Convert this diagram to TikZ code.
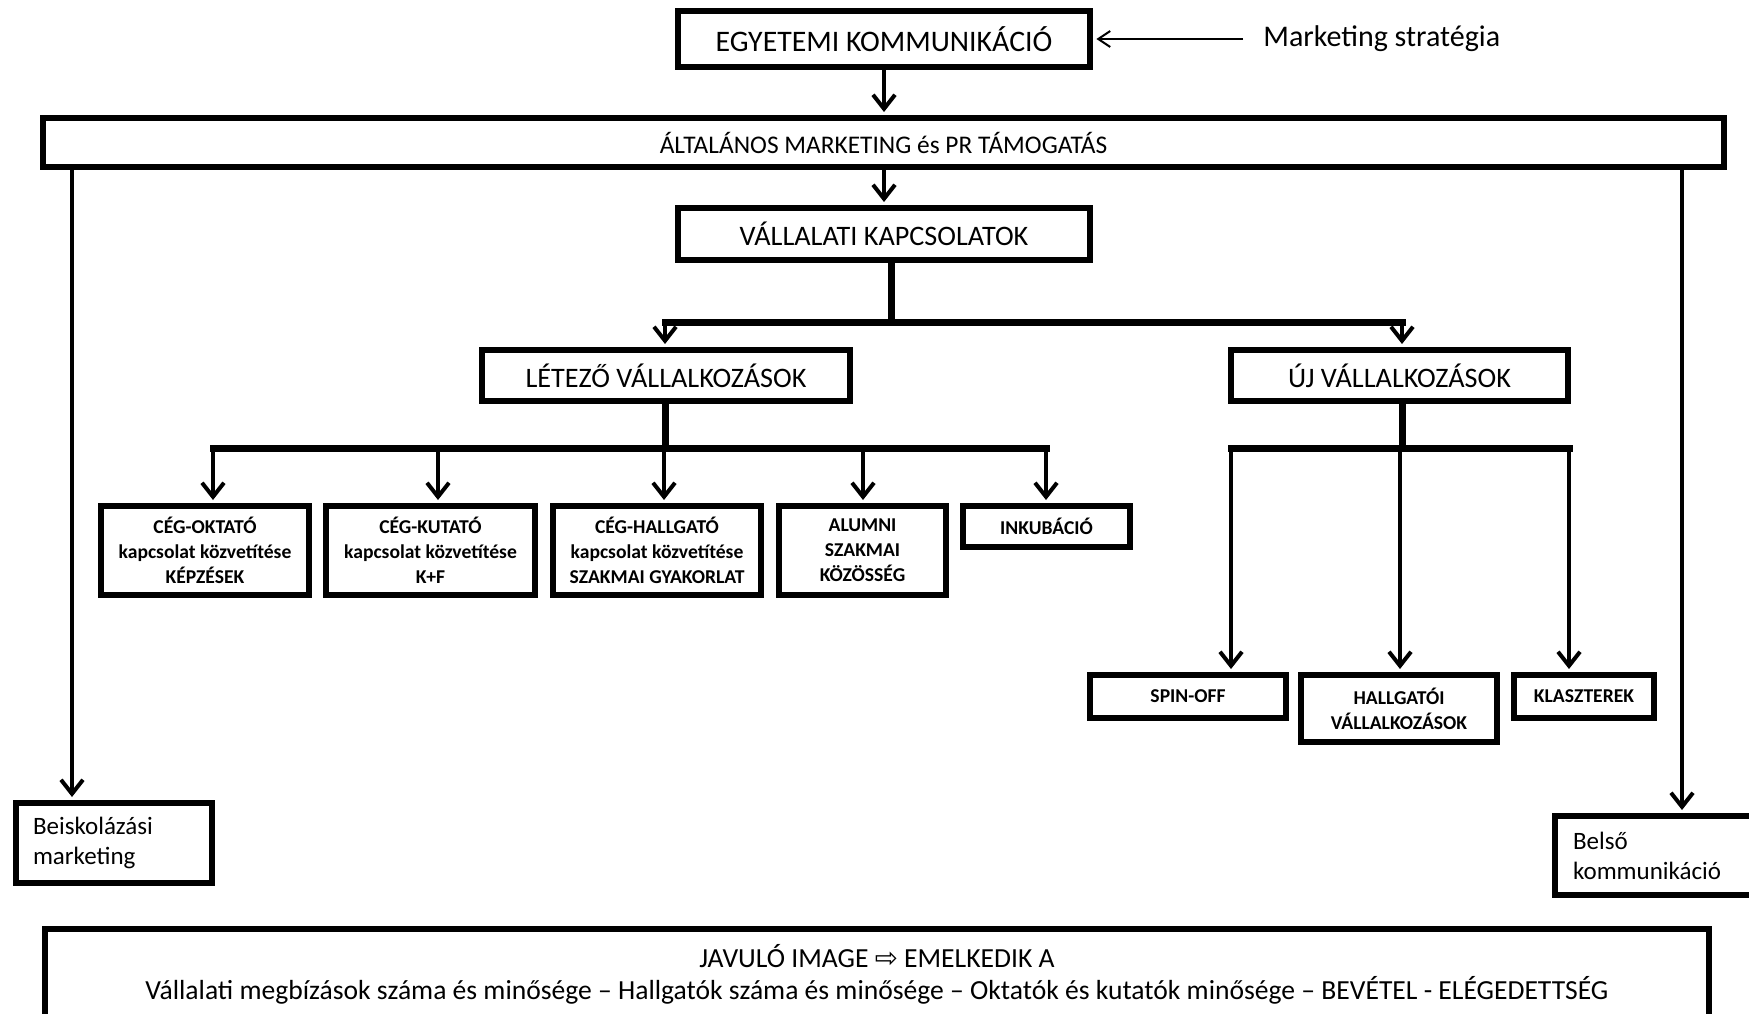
\documentclass[tikz,border=0pt]{standalone}
\usepackage{fontspec}
\setmainfont{Carlito}
\newfontfamily\dejavu{DejaVu Sans}
\usetikzlibrary{arrows.meta,calc}
\begin{document}
\begin{tikzpicture}[x=0.5pt,y=-0.5pt,
  box/.style={draw, line width=3.2pt, inner sep=0pt, align=center},
  titlebox/.style={box, font=\fontsize{14.1}{16}\selectfont},
  sbox/.style={box, font=\bfseries\fontsize{9.8}{12.5}\selectfont},
  sidebox/.style={box, align=left, font=\fontsize{12.5}{15}\selectfont},
  arr/.style={line width=2pt, -{Straight Barb[length=7pt,width=11pt]}, shorten >=1.4pt},
  marr/.style={line width=1pt, -{Straight Barb[length=6pt,width=8pt]}, shorten >=1.6pt},
  bus/.style={line width=3.5pt, line cap=rect},
  stem/.style={line width=3.5pt},
]
\useasboundingbox (0,0) rectangle (1749,1013);
\clip (0,0) rectangle (1749,1013);
\fill[white] (0,0) rectangle (1749,1013);

% main boxes
\node[box, font=\fontsize{14.9}{17}\selectfont, minimum width=206pt, minimum height=28pt] (egy) at (884,39) {EGYETEMI KOMMUNIKÁCIÓ};
\node[box, font=\fontsize{12.7}{14}\selectfont, minimum width=840.5pt, minimum height=24.5pt] (alt) at (883.5,142.5) {ÁLTALÁNOS MARKETING és PR TÁMOGATÁS};
\node[titlebox, minimum width=206pt, minimum height=26pt] (val) at (884,234) {VÁLLALATI KAPCSOLATOK};
\node[titlebox, minimum width=184pt, minimum height=25.5pt] (let) at (666,375.5) {LÉTEZŐ VÁLLALKOZÁSOK};
\node[titlebox, minimum width=168.5pt, minimum height=25.5pt] (uj) at (1399.5,375.5) {ÚJ VÁLLALKOZÁSOK};

% small boxes
\node[sbox, minimum width=104pt, minimum height=44.5pt] (b1) at (205,550.5) {CÉG-OKTATÓ\\kapcsolat közvetítése\\KÉPZÉSEK};
\node[sbox, minimum width=104.5pt, minimum height=44.5pt] (b2) at (430.5,550.5) {CÉG-KUTATÓ\\kapcsolat közvetítése\\K+F};
\node[sbox, minimum width=104pt, minimum height=44.5pt] (b3) at (657,550.5) {CÉG-HALLGATÓ\\kapcsolat közvetítése\\SZAKMAI GYAKORLAT};
\node[sbox, minimum width=83.5pt, minimum height=44.5pt] (b4) at (862.5,550.5) {ALUMNI\\SZAKMAI\\KÖZÖSSÉG};
\node[sbox, minimum width=83.5pt, minimum height=20.5pt] (ink) at (1046.5,526.5) {INKUBÁCIÓ};

\node[sbox, minimum width=98pt, minimum height=21.5pt] (spin) at (1188,696.5) {SPIN-OFF};
\node[sbox, minimum width=98pt, minimum height=33.5pt] (hall) at (1399,708.5) {HALLGATÓI\\VÁLLALKOZÁSOK};
\node[sbox, minimum width=70pt, minimum height=21.5pt] (kla) at (1584,696.5) {KLASZTEREK};

% side boxes
\node[sidebox, minimum width=98pt, minimum height=40pt, text width=81pt, inner xsep=8.5pt] (bei) at (114,843) {Beiskolázási\\marketing};
\node[sidebox, minimum width=110pt, minimum height=39.5pt, text width=92pt, inner xsep=9pt] (bel) at (1665,855.5) {Belső\\kommunikáció};

% bottom box
\node[box, font=\fontsize{13.8}{16}\selectfont, minimum width=832pt, minimum height=45pt] (bot) at (877,974)
  {JAVULÓ IMAGE {\dejavu ⇨} EMELKEDIK A\\Vállalati megbízások száma és minősége – Hallgatók száma és minősége – Oktatók és kutatók minősége – BEVÉTEL - ELÉGEDETTSÉG};

% marketing strategy
\node[anchor=west, inner sep=0pt, font=\fontsize{15}{17}\selectfont] (ms) at (1263,39) {Marketing stratégia};
\draw[marr, shorten <=10pt] (ms.west) -- (egy.east);

% top connectors
\draw[arr] (egy.south) -- (egy.south |- alt.north);
\draw[arr] (val.north |- alt.south) -- (val.north);

% vállalati split
\coordinate (vj) at (891,322);
\coordinate (vl) at (665,322);
\coordinate (vr) at (1402,322);
\draw[stem] (val.south -| vj) -- (vj);
\draw[bus] (vl) -- (vr);
\draw[arr] (vl) -- (vl |- let.north);
\draw[arr] (vr) -- (vr |- uj.north);

% létező split
\coordinate (lj) at (665,448);
\coordinate (t1) at (213,448);
\coordinate (t2) at (438,448);
\coordinate (t3) at (664,448);
\coordinate (t4) at (863,448);
\coordinate (t5) at (1046,448);
\draw[stem] (let.south -| lj) -- (lj);
\draw[bus] (t1) -- (t5);
\draw[arr] (t1) -- (t1 |- b1.north);
\draw[arr] (t2) -- (t2 |- b2.north);
\draw[arr] (t3) -- (t3 |- b3.north);
\draw[arr] (t4) -- (t4 |- b4.north);
\draw[arr] (t5) -- (t5 |- ink.north);

% új split
\coordinate (uj0) at (1402,448);
\coordinate (u1) at (1231,448);
\coordinate (u2) at (1400,448);
\coordinate (u3) at (1569,448);
\draw[stem] (uj.south -| uj0) -- (uj0);
\draw[bus] (u1) -- (u3);
\draw[arr] (u1) -- (u1 |- spin.north);
\draw[arr] (u2) -- (u2 |- hall.north);
\draw[arr] (u3) -- (u3 |- kla.north);

% side lines
\coordinate (lx) at (72,0);
\coordinate (rx) at (1682,0);
\draw[arr] (alt.south -| lx) -- (bei.north -| lx);
\draw[arr] (alt.south -| rx) -- (bel.north -| rx);
\end{tikzpicture}
\end{document}
